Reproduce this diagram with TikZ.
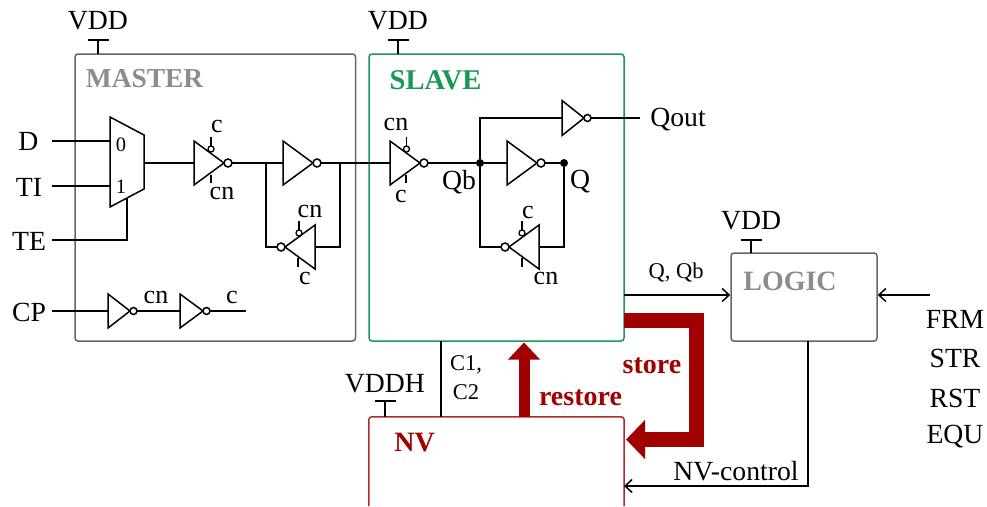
\documentclass[tikz,border=0pt]{standalone}
\usepackage{fontspec}
\setmainfont{Liberation Serif}
\usetikzlibrary{arrows.meta}
\definecolor{boxgray}{HTML}{666666}
\definecolor{txtgray}{HTML}{8C8C8C}
\definecolor{slavegreen}{HTML}{1B9755}
\definecolor{nvline}{HTML}{B02A30}
\definecolor{darkred}{HTML}{A00000}
\tikzset{
  wire/.style={line width=1.5pt,black},
  ctl/.style={line width=1.3pt,black},
  cell/.style={rounded corners=3pt,line width=1.5pt,inner sep=0pt,fill=none},
  lbl/.style={font=\fontsize{27.7}{27.7}\selectfont,inner sep=0pt,text=black,yshift=-1pt},
  ctlbl/.style={font=\fontsize{26}{26}\selectfont,inner sep=0pt,text=black,yshift=-1pt},
  small/.style={font=\fontsize{22.5}{22.5}\selectfont,inner sep=0pt,text=black,yshift=-1pt},
  title/.style={font=\fontsize{28}{28}\selectfont\bfseries,inner sep=0pt,yshift=-1pt},
  thick arrow/.style={line width=14.5pt,darkred},
  open/.style={-{Straight Barb[length=7pt,width=13pt,line width=1.5pt]}},
  dot/.style={circle,fill=black,inner sep=0pt,minimum size=8pt}
}
% name, base x, centre y, length, half height, bubble radius, direction
\newcommand\gate[7]{
  \draw[wire,line join=miter] (#2,#3) ++(0,-#5) -- ++(#7*#4,#5) -- ++(-#7*#4,#5) -- cycle;
  \draw[wire,fill=white] (#2,#3) ++(#7*#4+#7*#6,0) circle[radius=#6 pt];
  \coordinate (#1-in) at (#2,#3);
  \path (#2,#3) ++(#7*#4+#7*#6+#7*#6,0) coordinate (#1-out);
}
\newcommand\stem[3]{\draw[ctl] (#1,#2) -- (#1,#3);}
\newcommand\bubstem[3]{\draw[ctl] (#1,#2) -- (#1,#3-3); \draw[ctl,fill=white] (#1,#3) circle[radius=3pt];}
\newcommand\vdd[3]{
  \coordinate (#1-t) at (#2,#3);
  \coordinate (#1-a) at (#2-10.5,#3);
  \coordinate (#1-b) at (#2+10.5,#3);
  \draw[ctl] (#1-a) -- (#1-b);
}
\begin{document}
\begin{tikzpicture}[x=1pt,y=-1pt]
\useasboundingbox (0,0) rectangle (987,506);

% blocks
\node[cell,draw=boxgray,minimum width=280.5pt,minimum height=287pt] (master) at (215.25,197.5) {};
\node[cell,draw=slavegreen,minimum width=255pt,minimum height=287pt] (slave) at (496.5,197.5) {};
\node[cell,draw=boxgray,minimum width=146pt,minimum height=88pt] (logic) at (804,297) {};
\node[minimum width=255pt,minimum height=89pt,inner sep=0pt] (nv) at (496.5,461.5) {};
\draw[cell,draw=nvline] (nv.south west) -- (nv.north west) -- (nv.north east) -- (nv.south east);

\node[title,text=txtgray,font=\fontsize{27.4}{27.4}\selectfont\bfseries] (tmaster) at (144.5,78) {MASTER};
\node[title,text=slavegreen,font=\fontsize{28.6}{28.6}\selectfont\bfseries] (tslave) at (435.5,79) {SLAVE};
\node[title,text=txtgray] (tlogic) at (790,280) {LOGIC};
\node[title,text=darkred] (tnv) at (414.5,442) {NV};

% supplies
\vdd{v1}{98}{40}  \draw[ctl] (v1-t) -- (98,54);
\vdd{v2}{398}{40} \draw[ctl] (v2-t) -- (398,54);
\vdd{v3}{751}{240} \draw[ctl] (v3-t) -- (751,253);
\vdd{v4}{385}{401} \draw[ctl] (v4-t) -- (385,417);
\node[lbl] (lv1) at (98,20) {VDD};
\node[lbl] (lv2) at (398,20) {VDD};
\node[lbl] (lv3) at (751,220) {VDD};
\node[lbl] (lv4) at (385,383) {VDDH};

% inputs
\node[lbl] (d) at (28.5,140) {D};
\node[lbl] (ti) at (29,186) {TI};
\node[lbl] (te) at (29,240) {TE};
\node[lbl] (cp) at (29,311) {CP};
\coordinate (dw) at (52,141);
\coordinate (tiw) at (52,186);
\coordinate (tew) at (52,240);
\coordinate (cpw) at (52,311);

% mux
\draw[wire,line join=miter] (110,117) -- (144,135) -- (144,189) -- (110,207) -- cycle;
\node[small,font=\fontsize{20.5}{20.5}\selectfont] (m0) at (121,144) {0};
\node[small,font=\fontsize{20.5}{20.5}\selectfont] (m1) at (121,186) {1};
\draw[wire] (dw) -- (110,141);
\draw[wire] (tiw) -- (110,186);
\draw[wire] (tew) -| (127,198);

% master latch
\gate{i1}{194}{163}{30}{22}{4}{1}
\bubstem{211}{137}{149}\stem{211}{175}{183}
\node[ctlbl] (c1) at (217,125) {c};
\node[ctlbl] (cn1) at (222,192) {cn};
\draw[wire] (144,163) -- (i1-in);
\gate{i2}{283}{163}{30}{22}{4}{1}
\draw[wire] (i1-out) -- (i2-in);
\gate{i3}{315}{247}{30}{22}{4}{-1}
\bubstem{299}{221}{233}\stem{298}{258}{267}
\node[ctlbl] (cn2) at (310,210) {cn};
\node[ctlbl] (c2) at (305,277) {c};
\coordinate (fa) at (266,163);
\coordinate (fb) at (340,163);
\draw[wire] (fa) |- (i3-out);
\draw[wire] (i3-in) -| (fb);

% clock
\draw[wire] (cpw) -- (108,311);
\gate{i4}{108}{311}{22}{17}{3.5}{1}
\gate{i5}{180}{311}{23}{17}{3.5}{1}
\draw[wire] (i4-out) -- (i5-in);
\coordinate (cend) at (246,311);
\draw[wire] (i5-out) -- (cend);
\node[ctlbl] (cn3) at (156,296) {cn};
\node[ctlbl] (c3) at (232,296) {c};

% slave latch
\gate{i6}{390}{163}{30}{22}{4}{1}
\bubstem{406.5}{137}{149}\stem{406}{175}{183}
\node[ctlbl] (cn4) at (396,123) {cn};
\node[ctlbl] (c4) at (401,195) {c};
\draw[wire] (i2-out) -- (i6-in);
\gate{i7}{507}{163}{30}{22}{4}{1}
\node[dot] (qbd) at (480,163) {};
\node[dot] (qd) at (564,163) {};
\draw[wire] (i6-out) -- (qbd) -- (i7-in);
\draw[wire] (i7-out) -- (qd);
\gate{i8}{539}{247}{30}{22}{4}{-1}
\bubstem{522}{221}{233}\stem{522}{258}{267}
\node[ctlbl] (c5) at (528,211) {c};
\node[ctlbl] (cn5) at (546,277) {cn};
\draw[wire] (qd) |- (i8-in);
\gate{i9}{562}{118}{22}{17.5}{3.5}{1}
\draw[wire] (i8-out) -| (qbd);
\draw[wire] (qbd) |- (i9-in);
\coordinate (qoutw) at (640,118);
\draw[wire] (i9-out) -- (qoutw);
\node[lbl] (qout) at (678,119) {Qout};
\node[lbl] (qb) at (459,181) {Qb};
\node[lbl] (q) at (580,181) {Q};

% slave to logic, logic inputs
\coordinate (s1) at (624,295);
\draw[wire,open] (s1) -- (logic.west |- s1);
\node[small] (qqb) at (676,272) {Q, Qb};
\coordinate (fin) at (930,295);
\draw[wire,open] (fin) -- (logic.east |- fin);
\node[lbl] (frm) at (955,318) {FRM};
\node[lbl] (str) at (955,357) {STR};
\node[lbl] (rst) at (955,397) {RST};
\node[lbl] (equ) at (955,436) {EQU};

% NV control
\coordinate (lg) at (808,341);
\coordinate (nvc) at (624,486);
\draw[wire,open] (lg) |- (nvc);
\node[lbl] (nvct) at (736,470) {NV-control};

% C1, C2
\coordinate (cs) at (441,341);
\coordinate (cn) at (441,417);
\draw[wire] (cs) -- (cn);
\node[small] (c1t) at (466,364) {C1,};
\node[small] (c2t) at (466,391) {C2};

% store / restore
\coordinate (ra) at (524,417);
\coordinate (rb) at (524,342.5);
\draw[thick arrow,line width=11pt,-{Triangle[length=17pt,width=31pt]}] (ra) -- (rb);
\coordinate (sa) at (624,320.5);
\coordinate (sb) at (696.5,320.5);
\coordinate (sc) at (696.5,439.5);
\coordinate (sd) at (626,439.5);
\draw[thick arrow,line join=miter,-{Triangle[length=19pt,width=38pt]}] (sa) -- (sb) -- (sc) -- (sd);
\node[title,text=darkred] (tstore) at (652,365) {store};
\node[title,text=darkred] (trestore) at (580.5,397) {restore};
\end{tikzpicture}
\end{document}
